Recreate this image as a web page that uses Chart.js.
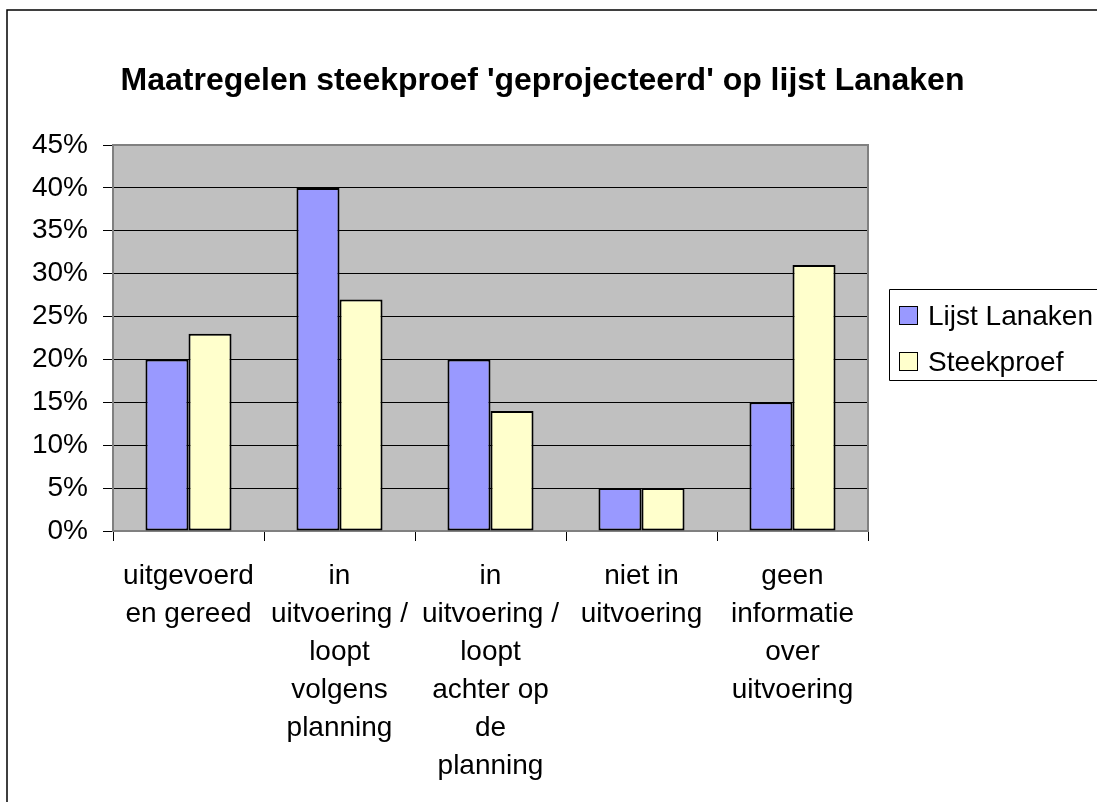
<!DOCTYPE html>
<html>
<head>
<meta charset="utf-8">
<script src="https://cdn.jsdelivr.net/npm/chart.js@4.4.0/dist/chart.umd.min.js"></script>
<style>
  html, body { margin: 0; padding: 0; background: #fff; overflow: hidden; }
  #wrap { width: 1097px; height: 802px; }
</style>
</head>
<body>
<div id="wrap"><canvas id="myChart" width="1097" height="802"></canvas></div>
<script>
var categories = [
    ['uitgevoerd', 'en gereed'],
    ['in', 'uitvoering /', 'loopt', 'volgens', 'planning'],
    ['in', 'uitvoering /', 'loopt', 'achter op', 'de', 'planning'],
    ['niet in', 'uitvoering'],
    ['geen', 'informatie', 'over', 'uitvoering']
];
var lijstLanaken = [20, 40, 20, 5, 15];
var steekproef = [23, 27, 14, 5, 31];
var yTickLabels = ['0%', '5%', '10%', '15%', '20%', '25%', '30%', '35%', '40%', '45%'];

var fontName = '"Liberation Sans", Arial, sans-serif';

// gray plot background + border, outer frame and legend box
var excelLook = {
    id: 'excelLook',
    beforeDraw: function (chart) {
        var c = chart.ctx, a = chart.chartArea;
        c.save();
        c.fillStyle = '#fff';
        c.fillRect(0, 0, chart.width, chart.height);
        c.strokeStyle = '#000';
        c.lineWidth = 1.5;
        c.beginPath();
        c.moveTo(7, chart.height + 5);
        c.lineTo(7, 10);
        c.lineTo(chart.width + 5, 10);
        c.stroke();
        c.fillStyle = '#C0C0C0';
        c.fillRect(a.left, a.top, a.right - a.left, a.bottom - a.top);
        c.restore();
    },
    beforeDatasetsDraw: function (chart) {
        var c = chart.ctx, a = chart.chartArea;
        c.save();
        c.strokeStyle = '#808080';
        c.lineWidth = 2;
        c.strokeRect(a.left, a.top, a.right - a.left, a.bottom - a.top);
        c.restore();
    },
    afterDraw: function (chart) {
        var c = chart.ctx;
        c.save();
        c.strokeStyle = '#000';
        c.lineWidth = 1;
        c.beginPath();
        c.moveTo(chart.width + 5, 289.5);
        c.lineTo(889.5, 289.5);
        c.lineTo(889.5, 380.5);
        c.lineTo(chart.width + 5, 380.5);
        c.stroke();
        c.font = '28px ' + fontName;
        c.textBaseline = 'alphabetic';
        chart.data.datasets.forEach(function (ds, i) {
            var y = 306 + i * 46;
            c.fillStyle = ds.backgroundColor;
            c.fillRect(899, y, 19, 19);
            c.strokeRect(899.5, y + 0.5, 18, 18);
            c.fillStyle = '#000';
            c.fillText(ds.label, 928, y + 19);
        });
        c.restore();
    }
};

var ctx = document.getElementById('myChart').getContext('2d');
var myChart = new Chart(ctx, {
    type: 'bar',
    data: {
        labels: categories,
        datasets: [{
            label: 'Lijst Lanaken',
            data: lijstLanaken,
            backgroundColor: '#9999FF',
            borderColor: '#000',
            borderWidth: 2,
            borderSkipped: false
        }, {
            label: 'Steekproef',
            data: steekproef,
            backgroundColor: '#FFFFCC',
            borderColor: '#000',
            borderWidth: 2,
            borderSkipped: false
        }]
    },
    options: {
        responsive: false,
        animation: false,
        layout: { padding: { left: 0, right: 12, top: 0, bottom: 0 } },
        datasets: { bar: { categoryPercentage: 0.57, barPercentage: 1 } },
        plugins: {
            legend: { display: false },
            tooltip: { enabled: false },
            title: {
                display: true,
                text: "Maatregelen steekproef 'geprojecteerd' op lijst Lanaken",
                color: '#000',
                font: { family: fontName, size: 32, weight: 'bold', lineHeight: 1.2 },
                padding: { top: 61.6, bottom: 45 }
            }
        },
        scales: {
            x: {
                afterFit: function (scale) { scale.height = 271; },
                grid: { drawOnChartArea: false, drawTicks: true, tickLength: 10, color: '#000', lineWidth: 1 },
                border: { display: true, color: '#000', width: 2 },
                ticks: {
                    color: '#000',
                    padding: 16,
                    maxRotation: 0,
                    autoSkip: false,
                    font: { family: fontName, size: 28, lineHeight: 38 / 28 }
                }
            },
            y: {
                min: 0,
                max: 45,
                afterFit: function (scale) { scale.width = 113; },
                grid: { color: '#000', lineWidth: 1, drawTicks: true, tickLength: 10 },
                border: { display: true, color: '#808080', width: 2 },
                ticks: {
                    stepSize: 5,
                    color: '#000',
                    padding: 15,
                    font: { family: fontName, size: 28 },
                    callback: function (value, index) { return yTickLabels[index]; }
                }
            },
            // empty right axis that only reserves room for the legend
            yRight: {
                position: 'right',
                afterFit: function (scale) { scale.width = 217; },
                grid: { display: false },
                border: { display: false },
                ticks: { display: false }
            }
        }
    },
    plugins: [excelLook]
});
</script>
</body>
</html>
